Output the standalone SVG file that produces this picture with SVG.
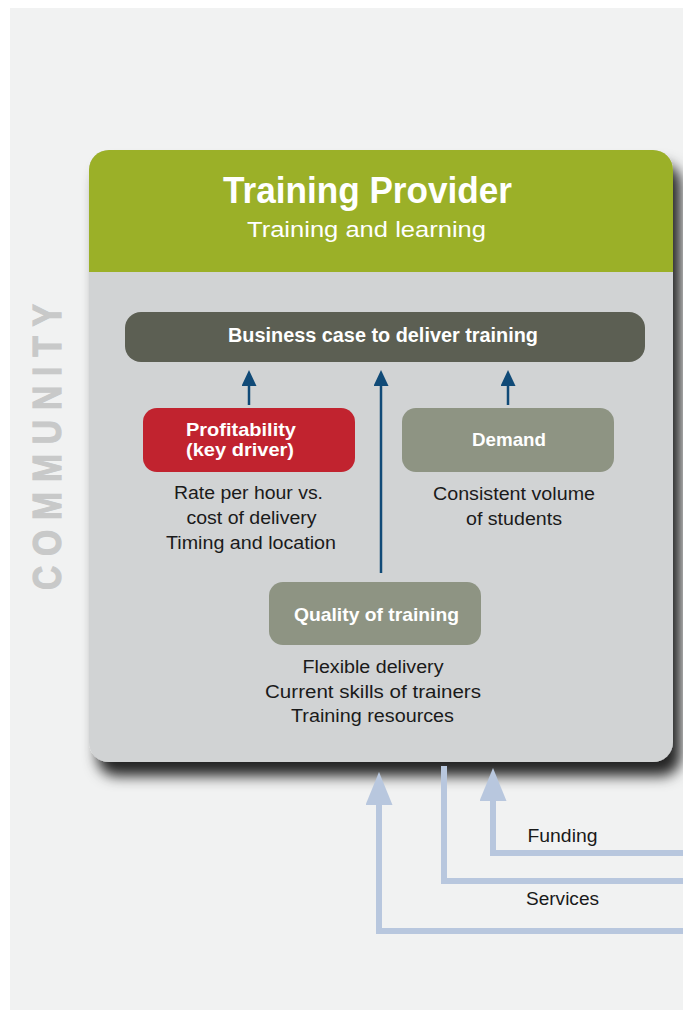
<svg xmlns="http://www.w3.org/2000/svg" width="683" height="1010" viewBox="0 0 683 1010">
  <defs>
    <filter id="shadow" x="-10%" y="-10%" width="130%" height="130%">
      <feDropShadow dx="8" dy="14" stdDeviation="7" flood-color="#000" flood-opacity="0.85"/>
    </filter>
    <marker id="darkHead" markerUnits="userSpaceOnUse" viewBox="0 0 16 15" markerWidth="16" markerHeight="15" refX="1" refY="7.5" orient="auto">
      <path d="M0,0 L16,7.5 L0,15 z" fill="#104a77"/>
    </marker>
    <marker id="lightHead" markerUnits="userSpaceOnUse" viewBox="0 0 33 27" markerWidth="33" markerHeight="27" refX="1" refY="13.5" orient="auto">
      <path d="M0,0 L33,13.5 L0,27 z" fill="#b8c7de"/>
    </marker>
    <style>
      .sans { font-family: "Liberation Sans", Arial, sans-serif; }
      .boxlabel { font-family: "Liberation Sans", Arial, sans-serif; font-weight: bold; fill: #ffffff; text-anchor: middle; }
      .body { font-family: "Liberation Sans", Arial, sans-serif; fill: #1a1a1a; text-anchor: middle; font-size: 17.5px; }
      .dark { stroke: #104a77; stroke-width: 2.5; fill: none; marker-end: url(#darkHead); }
      .light { stroke: #b8c7de; stroke-width: 6; fill: none; stroke-linejoin: miter; }
    </style>
  </defs>

  <!-- background -->
  <rect x="10" y="8" width="673" height="1002" fill="#f1f2f2"/>

  <!-- community label -->
  <text class="sans" transform="translate(61,590) rotate(-90) scale(0.82,1)" font-size="41" font-weight="bold" fill="#c8c9c9" stroke="#c8c9c9" stroke-width="1.2" letter-spacing="12">COMMUNITY</text>

  <!-- main training provider box -->
  <g id="training-provider">
    <rect x="89" y="150" width="584" height="612" rx="20" ry="20" fill="#d1d3d4" filter="url(#shadow)"/>
    <path d="M89,272 L89,170 A20,20 0 0 1 109,150 L653,150 A20,20 0 0 1 673,170 L673,272 Z" fill="#9bb028"/>
    <text class="boxlabel" x="367.5" y="203" font-size="36" textLength="289" lengthAdjust="spacingAndGlyphs">Training Provider</text>
    <text class="sans" x="366.5" y="237" font-size="22" fill="#ffffff" text-anchor="middle" textLength="239" lengthAdjust="spacingAndGlyphs">Training and learning</text>
  </g>

  <g id="business-case">
    <rect x="125" y="312" width="520" height="50" rx="16" ry="16" fill="#5c5f53"/>
    <text class="boxlabel" x="383" y="342" font-size="19.5" textLength="310" lengthAdjust="spacingAndGlyphs">Business case to deliver training</text>
  </g>

  <g id="profitability">
    <rect x="143" y="408" width="212" height="64" rx="14" ry="14" fill="#c1232f"/>
    <text class="boxlabel" x="241" y="436" font-size="19" textLength="110" lengthAdjust="spacingAndGlyphs">Profitability</text>
    <text class="boxlabel" x="240" y="456" font-size="19" textLength="108" lengthAdjust="spacingAndGlyphs">(key driver)</text>
    <text class="body" x="248.5" y="499" textLength="149" lengthAdjust="spacingAndGlyphs">Rate per hour vs.</text>
    <text class="body" x="251.5" y="524" textLength="130" lengthAdjust="spacingAndGlyphs">cost of delivery</text>
    <text class="body" x="251" y="549" textLength="170" lengthAdjust="spacingAndGlyphs">Timing and location</text>
  </g>

  <g id="demand">
    <rect x="402" y="408" width="212" height="64" rx="14" ry="14" fill="#8e9483"/>
    <text class="boxlabel" x="509" y="446" font-size="19" textLength="74" lengthAdjust="spacingAndGlyphs">Demand</text>
    <text class="body" x="514" y="500" textLength="162" lengthAdjust="spacingAndGlyphs">Consistent volume</text>
    <text class="body" x="514" y="525" textLength="96" lengthAdjust="spacingAndGlyphs">of students</text>
  </g>

  <g id="quality">
    <rect x="269" y="582" width="212" height="63" rx="14" ry="14" fill="#8e9483"/>
    <text class="boxlabel" x="376.5" y="621" font-size="19" textLength="165" lengthAdjust="spacingAndGlyphs">Quality of training</text>
    <text class="body" x="373" y="673" textLength="141" lengthAdjust="spacingAndGlyphs">Flexible delivery</text>
    <text class="body" x="373" y="698" textLength="216" lengthAdjust="spacingAndGlyphs">Current skills of trainers</text>
    <text class="body" x="372.5" y="722" textLength="163" lengthAdjust="spacingAndGlyphs">Training resources</text>
  </g>

  <g id="connectors">
    <line class="dark" x1="249" y1="405" x2="249" y2="385"/>
    <line class="dark" x1="381" y1="573" x2="381" y2="385"/>
    <line class="dark" x1="508" y1="405" x2="508" y2="385"/>

    <polyline class="light" points="683,931 379,931 379,804" marker-end="url(#lightHead)"/>
    <polyline class="light" points="444,766 444,881 683,881"/>
    <polyline class="light" points="683,853 493,853 493,800" marker-end="url(#lightHead)"/>

    <text class="sans" x="562.5" y="842" font-size="18" fill="#1a1a1a" text-anchor="middle" textLength="70" lengthAdjust="spacingAndGlyphs">Funding</text>
    <text class="sans" x="562.5" y="905" font-size="18" fill="#1a1a1a" text-anchor="middle" textLength="73" lengthAdjust="spacingAndGlyphs">Services</text>
  </g>
</svg>
